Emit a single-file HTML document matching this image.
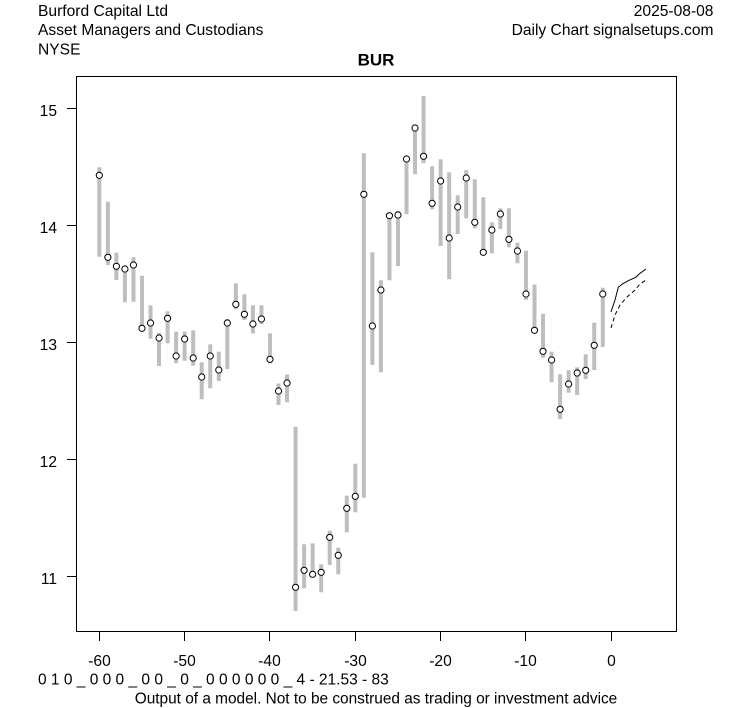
<!DOCTYPE html>
<html><head><meta charset="utf-8"><style>
html,body{margin:0;padding:0;background:#fff;}
svg{display:block;}
text{font-family:"Liberation Sans",Arial,sans-serif;fill:#000;}
</style></head><body>
<svg width="753" height="708" viewBox="0 0 753 708" xmlns="http://www.w3.org/2000/svg">
<rect width="753" height="708" fill="#fff"/>
<g font-size="15.6">
<text x="38" y="16">Burford Capital Ltd</text>
<text x="38" y="35.2">Asset Managers and Custodians</text>
<text x="38" y="54.4">NYSE</text>
<text x="713.5" y="16" text-anchor="end">2025-08-08</text>
<text x="713.5" y="35.2" text-anchor="end">Daily Chart signalsetups.com</text>
</g>
<text x="376" y="65.5" text-anchor="middle" font-size="17" font-weight="bold">BUR</text>
<rect x="76.5" y="76.5" width="600" height="555" fill="none" stroke="#000" stroke-width="1"/>
<g stroke="#000" stroke-width="1">
<line x1="67" y1="108.5" x2="76.5" y2="108.5"/>
<line x1="67" y1="225.5" x2="76.5" y2="225.5"/>
<line x1="67" y1="342.5" x2="76.5" y2="342.5"/>
<line x1="67" y1="459.5" x2="76.5" y2="459.5"/>
<line x1="67" y1="576.5" x2="76.5" y2="576.5"/>
<line x1="99.5" y1="631.5" x2="99.5" y2="641"/>
<line x1="184.5" y1="631.5" x2="184.5" y2="641"/>
<line x1="269.5" y1="631.5" x2="269.5" y2="641"/>
<line x1="355.5" y1="631.5" x2="355.5" y2="641"/>
<line x1="440.5" y1="631.5" x2="440.5" y2="641"/>
<line x1="525.5" y1="631.5" x2="525.5" y2="641"/>
<line x1="611.5" y1="631.5" x2="611.5" y2="641"/>
</g>
<g font-size="15.6" text-anchor="end">
<text x="57" y="116">15</text>
<text x="57" y="233">14</text>
<text x="57" y="350">13</text>
<text x="57" y="467">12</text>
<text x="57" y="584">11</text>
</g>
<g font-size="15.6" text-anchor="middle">
<text x="99.5" y="666">-60</text>
<text x="184.5" y="666">-50</text>
<text x="269.5" y="666">-40</text>
<text x="355.5" y="666">-30</text>
<text x="440.5" y="666">-20</text>
<text x="525.5" y="666">-10</text>
<text x="611.5" y="666">0</text>
</g>
<text x="38" y="684.5" font-size="15.5">0 1 0 _ 0 0 0 _ 0 0 _ 0 _ 0 0 0 0 0 0 _ 4 - 21.53 - 83</text>
<text x="376" y="703.5" font-size="15.4" text-anchor="middle">Output of a model. Not to be construed as trading or investment advice</text>
<g id="bars" stroke="#bebebe" stroke-width="4"></g>
<g id="pts" stroke="#000" stroke-width="1" fill="#fff"></g>
<polyline points="611,312 615,300 618.3,287.3 622.3,284 628.3,280.7 635.7,277.3 640,273.3 646,269" fill="none" stroke="#000" stroke-width="1"/>
<polyline points="611,328 615,315 620,305 627,297 634,291 640,284 646,280" fill="none" stroke="#000" stroke-width="1" stroke-dasharray="4,3"/>
<script>
var d=[[-60,167.3,256.7,175.3],[-59,201.7,265,257.3],[-58,252.7,280,266.3],[-57,266.7,302.3,269],[-56,257.3,301.7,265],[-55,275.7,328.3,328.3],[-54,305.3,338.7,323],[-53,332.7,366,338],[-52,311.3,343.3,318.3],[-51,331.7,363.3,356],[-50,331.7,360.7,339],[-49,330.3,365.7,358],[-48,362.3,399.3,377],[-47,344.3,388.3,356],[-46,351.7,381,370],[-45,319,369,323],[-44,283.3,309.3,304.3],[-43,294.3,320,314.3],[-42,305.3,333.3,324],[-41,305.3,324,319],[-40,333.3,363.3,359.3],[-39,383.5,405,391],[-38,374.5,402.3,383],[-37,426.7,611,587.3],[-36,544.3,588.3,570.3],[-35,543.3,577,574.3],[-34,564.3,592.3,572.3],[-33,530.7,565,537.3],[-32,547.7,574.3,555.3],[-31,495.7,532.3,508.3],[-30,463.7,512.3,496.3],[-29,153.3,497.7,194.3],[-28,252.3,365,326],[-27,280.3,372.3,290],[-26,213.3,280.3,215.7],[-25,211,266,215],[-24,157.3,214.3,159],[-23,126.7,174.3,128],[-22,96,163.3,156.3],[-21,166.3,209.3,203.3],[-20,159.3,246,181],[-19,172.3,279.3,238],[-18,195.3,234,207],[-17,170,218.3,178],[-16,179.3,228.3,222.3],[-15,197.3,253.3,252.3],[-14,222.3,253.3,230],[-13,208.3,229,214],[-12,208.3,247.3,239.3],[-11,242.7,263.3,251],[-10,250.7,300,294],[-9,284.5,333,330.3],[-8,313.7,357.7,351.3],[-7,351.7,382.3,360],[-6,374.3,419,409.3],[-5,370.3,392.7,384],[-4,367.3,395,373],[-3,354.3,379,370.3],[-2,322.7,370,345.3],[-1,287.7,347,294]];
var ns="http://www.w3.org/2000/svg",b=document.getElementById("bars"),p=document.getElementById("pts");
d.forEach(function(r){var x=611.3+r[0]*8.533;
var l=document.createElementNS(ns,"line");l.setAttribute("x1",x);l.setAttribute("x2",x);l.setAttribute("y1",r[1]);l.setAttribute("y2",r[2]);b.appendChild(l);
var c=document.createElementNS(ns,"circle");c.setAttribute("cx",x);c.setAttribute("cy",r[3]);c.setAttribute("r",3.1);p.appendChild(c);});
</script>
</svg>
</body></html>
